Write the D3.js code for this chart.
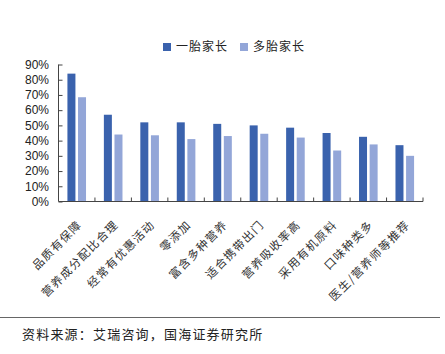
<!DOCTYPE html>
<html lang="zh">
<head>
    <meta charset="UTF-8">
    <title>一胎家长 vs 多胎家长</title>
    <script src="https://d3js.org/d3.v7.min.js"></script>
    <style>
        body { margin: 0; background: #fff; }
        svg { display: block; }
    </style>
</head>
<body>
    <div id="chart"></div>
    <script>
        // data
        const categories = ["品质有保障", "营养成分配比合理", "经常有优惠活动", "零添加", "富含多种营养",
            "适合携带出门", "营养吸收率高", "采用有机原料", "口味种类多", "医生/营养师等推荐"];
        const firstChild = [84, 57, 52, 52, 51, 50, 48.5, 45, 42.5, 37];
        const multiChild = [68.5, 44, 43.5, 41, 43, 44.5, 42, 33.5, 37.5, 30];
        const seriesNames = ["一胎家长", "多胎家长"];
        const yTicks = [0, 10, 20, 30, 40, 50, 60, 70, 80, 90];

        const width = 445, height = 354;
        const margin = { top: 64.5, right: 22, bottom: 152.5, left: 58.5 };
        const colors = ["#3a62ad", "#93a6d8"];
        const cjk = "'Noto Sans CJK SC', 'Noto Sans', sans-serif";

        const svg = d3.select("#chart").append("svg")
            .attr("width", width)
            .attr("height", height);

        const x = d3.scaleBand()
            .domain(categories)
            .range([margin.left, width - margin.right])
            .paddingInner(0)
            .paddingOuter(0);

        const y = d3.scaleLinear()
            .domain([0, 90])
            .range([height - margin.bottom, margin.top]);

        const barW = 8, gap = 2.6;
        const groupW = barW * 2 + gap;

        // bars
        const groups = svg.append("g").selectAll("g")
            .data(categories)
            .join("g")
            .attr("transform", d => "translate(" + (x(d) + (x.bandwidth() - groupW) / 2) + ",0)");

        groups.selectAll("rect")
            .data((d, i) => [firstChild[i], multiChild[i]])
            .join("rect")
            .attr("x", (d, j) => j * (barW + gap))
            .attr("y", d => y(d))
            .attr("width", barW)
            .attr("height", d => y(0) - y(d))
            .attr("fill", (d, j) => colors[j]);

        // y axis
        const yAxis = svg.append("g")
            .attr("transform", "translate(" + margin.left + ",0)")
            .call(d3.axisRight(y).tickValues(yTicks).tickSize(4).tickFormat(""));
        yAxis.selectAll("path, line").attr("stroke", "#444");
        yAxis.select(".domain").attr("d", "M0," + y(90) + "V" + y(0));

        svg.append("g").selectAll("text")
            .data(yTicks)
            .join("text")
            .attr("x", 49)
            .attr("y", d => y(d))
            .attr("dy", "0.36em")
            .attr("text-anchor", "end")
            .attr("font-family", "'Liberation Sans', Arial, sans-serif")
            .attr("font-size", 12)
            .attr("fill", "#222")
            .text(d => d + "%");

        // x axis with inward ticks at category boundaries
        const xAxis = svg.append("g");
        xAxis.append("line")
            .attr("x1", margin.left).attr("x2", width - margin.right)
            .attr("y1", y(0)).attr("y2", y(0))
            .attr("stroke", "#444");
        xAxis.selectAll(".tk")
            .data(categories)
            .join("line")
            .attr("class", "tk")
            .attr("x1", d => x(d) + x.bandwidth())
            .attr("x2", d => x(d) + x.bandwidth())
            .attr("y1", y(0)).attr("y2", y(0) - 4)
            .attr("stroke", "#444");

        // rotated category labels
        svg.append("g").selectAll("text")
            .data(categories)
            .join("text")
            .attr("transform", d => "translate(" + (x(d) + x.bandwidth() / 2 + 3) + "," + (y(0) + 21) + ") rotate(-45)")
            .attr("text-anchor", "end")
            .attr("dy", "0.35em")
            .attr("font-family", cjk)
            .attr("font-size", 11.5)
            .attr("letter-spacing", 1.3)
            .attr("fill", "#333")
            .text(d => d);

        // legend
        const legend = svg.append("g").attr("transform", "translate(163,47)");
        const legendX = [0, 77];
        seriesNames.forEach((name, i) => {
            legend.append("rect")
                .attr("x", legendX[i]).attr("y", -4)
                .attr("width", 8).attr("height", 8)
                .attr("fill", colors[i]);
            legend.append("text")
                .attr("x", legendX[i] + 13).attr("y", 0)
                .attr("dy", "0.36em")
                .attr("font-family", cjk)
                .attr("font-size", 12)
                .attr("letter-spacing", 1)
                .attr("fill", "#222")
                .text(name);
        });

        // separator and source note
        svg.append("line")
            .attr("x1", 0).attr("x2", 440)
            .attr("y1", 317.5).attr("y2", 317.5)
            .attr("stroke", "#666")
            .attr("stroke-width", 1.2);

        svg.append("text")
            .attr("x", 22).attr("y", 334)
            .attr("dy", "0.36em")
            .attr("font-family", cjk)
            .attr("font-size", 13)
            .attr("letter-spacing", 1.2)
            .attr("fill", "#222")
            .text("资料来源：艾瑞咨询，国海证券研究所");
    </script>
</body>
</html>
